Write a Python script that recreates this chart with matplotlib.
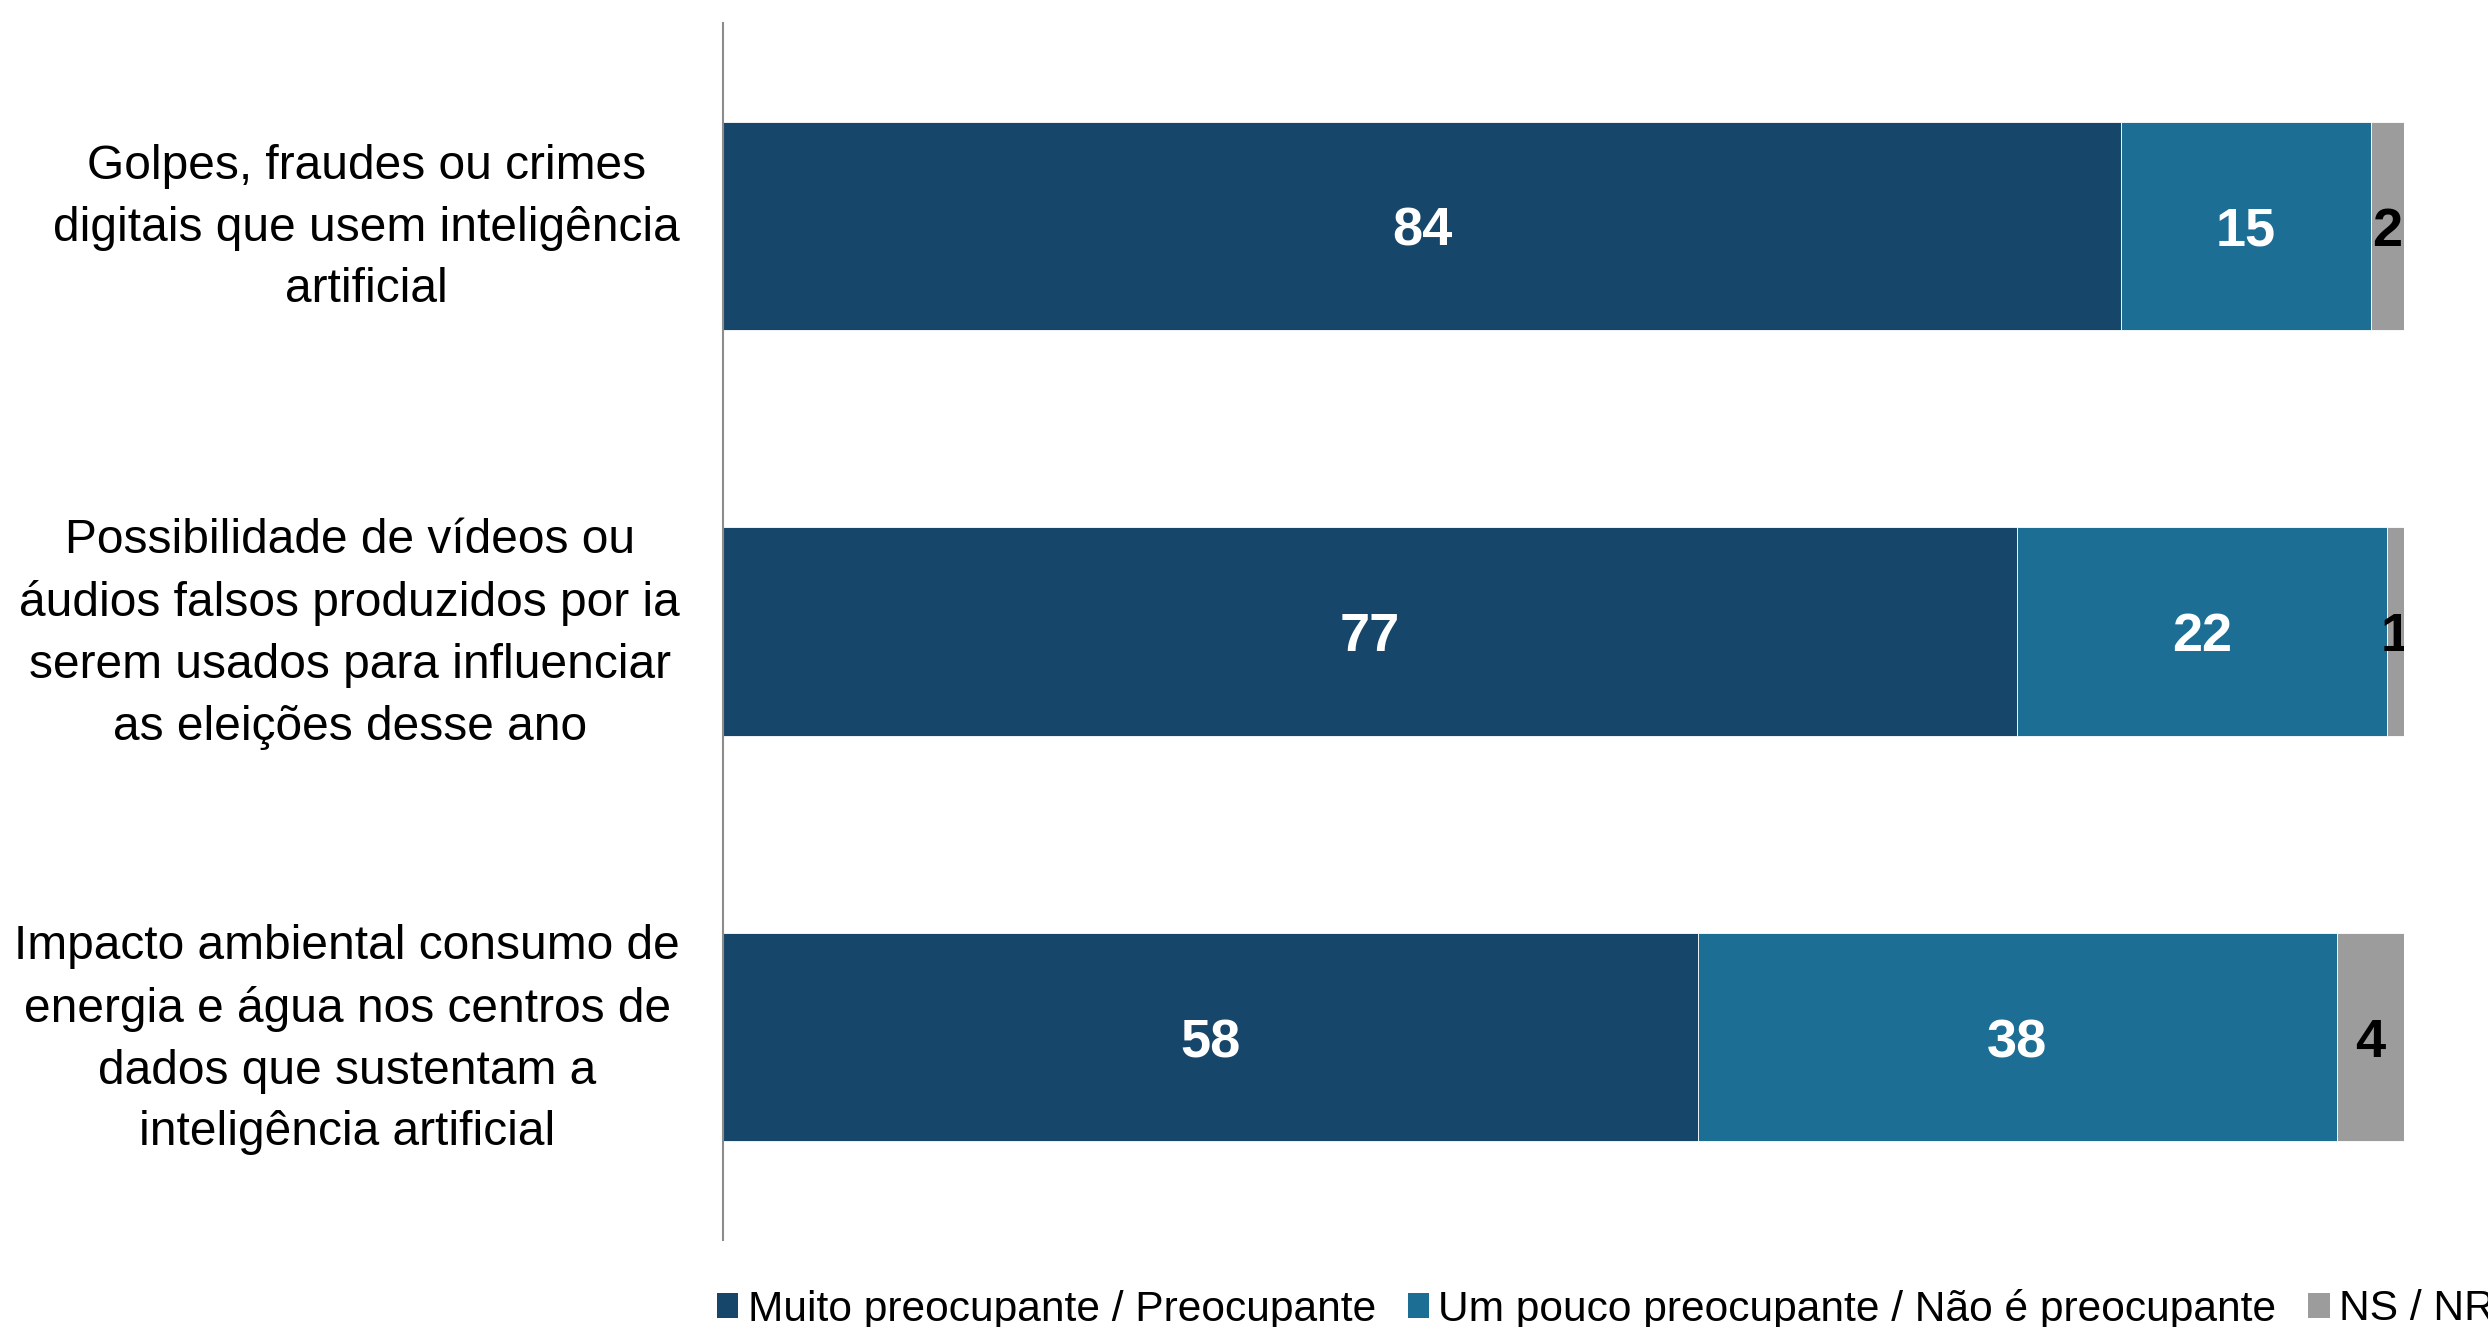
import matplotlib
matplotlib.use("Agg")
import matplotlib.pyplot as plt
from matplotlib.patches import Patch
import numpy as np

plt.rcParams['font.family'] = ['Liberation Sans', 'DejaVu Sans']

categories = [
    "Golpes, fraudes ou crimes\ndigitais que usem inteligência\nartificial",
    "Possibilidade de vídeos ou\náudios falsos produzidos por ia\nserem usados para influenciar\nas eleições desse ano",
    "Impacto ambiental consumo de\nenergia e água nos centros de\ndados que sustentam a\ninteligência artificial",
]
series_names = [
    "Muito preocupante / Preocupante",
    "Um pouco preocupante / Não é preocupante",
    "NS / NR",
]
muito = [84, 77, 58]
pouco = [15, 22, 38]
nsnr = [2, 1, 4]

colors = ["#17466B", "#1D6E95", "#9C9C9C"]
label_colors = ["white", "white", "black"]

W, H = 2488, 1327
fig = plt.figure(figsize=(W / 100, H / 100), dpi=100)
ax = fig.add_axes([723 / W, 1 - 1240 / H, (2404 - 723) / W, (1240 - 23) / H])

values = np.array([muito, pouco, nsnr], dtype=float)
totals = values.sum(axis=0)
shares = values / totals * 100  # 100% stacked
y = np.arange(len(categories))
left = np.zeros(len(categories))

# baseline offset so the digits sit visually centred in each bar
base_off = 0.049

for vals, shr, col, lcol in zip(values, shares, colors, label_colors):
    ax.barh(y, shr, left=left, height=0.513, color=col,
            edgecolor="white", linewidth=0.6)
    for yi, l, s, v in zip(y, left, shr, vals):
        t = ax.text(l + s / 2, yi + base_off, f"{v:.0f}", ha="center",
                    va="baseline", color=lcol, fontsize=39,
                    fontweight="bold", clip_on=True)
        t.set_clip_box(ax.bbox)
    left += shr

ax.set_xlim(0, 100)
ax.set_ylim(2.5, -0.5)
ax.set_yticks([])
ax.set_xticks([])

# category labels, right-aligned next to the axis, lines centred
for yi, cat in zip(y, categories):
    ax.annotate(cat, xy=(0, yi), xycoords=("axes fraction", "data"),
                xytext=(-31, -1.7), textcoords="offset points",
                ha="right", va="center", multialignment="center",
                fontsize=34.5, linespacing=1.48)

for s in ["top", "right", "bottom"]:
    ax.spines[s].set_visible(False)
ax.spines["left"].set_color("#8C8C8C")
ax.spines["left"].set_linewidth(1.5)

handles = [Patch(facecolor=c, edgecolor="none") for c in colors]
fig.legend(handles, series_names, loc="center left",
           bbox_to_anchor=(717 / W, 1 - 1309 / H), ncol=3, frameon=False,
           fontsize=30.6, handlelength=0.5, handleheight=0.55,
           handletextpad=0.22, columnspacing=0.75, borderpad=0,
           borderaxespad=0)

fig.savefig("out.png", dpi=100)
